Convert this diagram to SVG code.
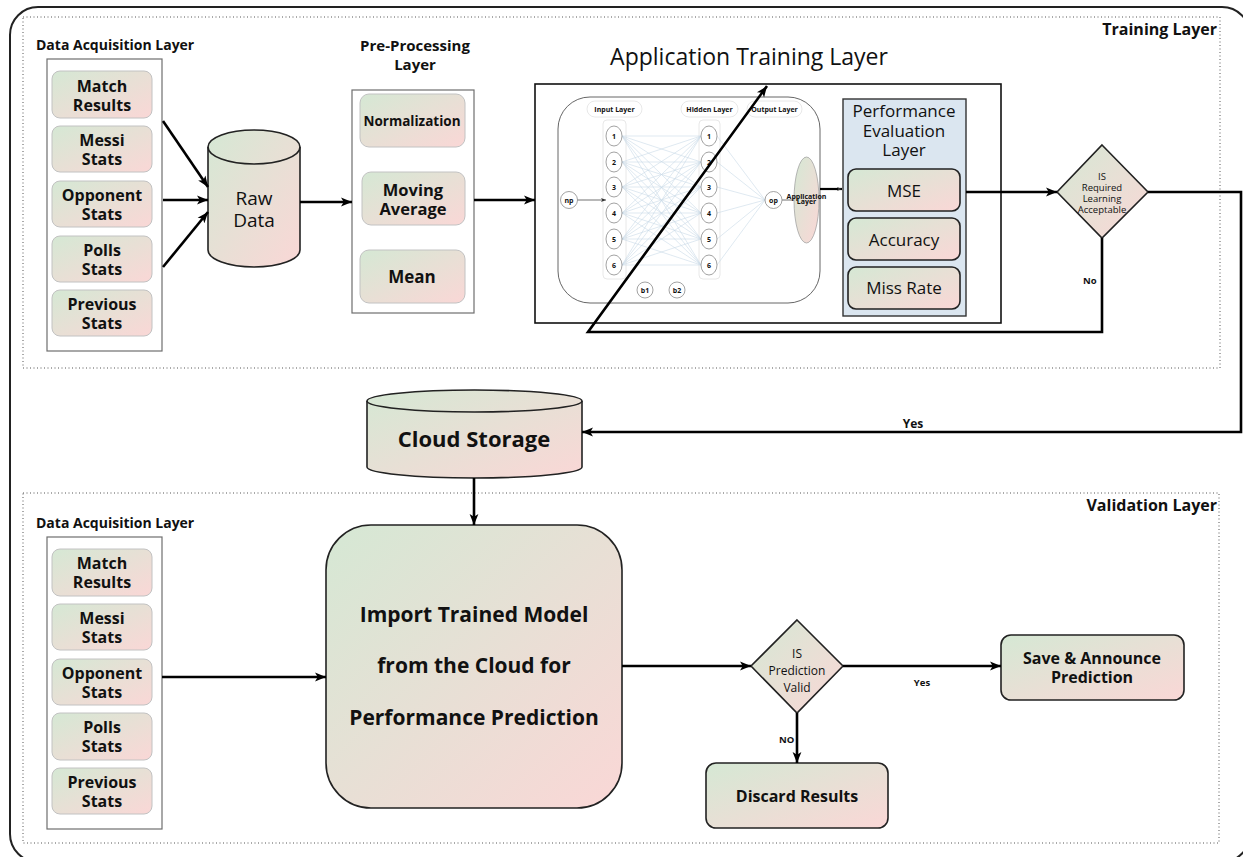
<svg xmlns="http://www.w3.org/2000/svg" width="1243" height="857" viewBox="0 0 1243 857">
  <defs>
    <linearGradient id="gp" x1="0" y1="0" x2="1" y2="1">
      <stop offset="0" stop-color="#d5e8d4"/>
      <stop offset="1" stop-color="#fad7d6"/>
    </linearGradient>
    <marker id="ah" viewBox="0 0 10 10" refX="10" refY="5" markerWidth="11" markerHeight="11" markerUnits="userSpaceOnUse" orient="auto">
      <path d="M0,1 L10,5 L0,9 L2.5,5 z" fill="#000"/>
    </marker>
    <marker id="ahs" viewBox="0 0 10 10" refX="10" refY="5" markerWidth="5" markerHeight="5" markerUnits="userSpaceOnUse" orient="auto">
      <path d="M0,1 L10,5 L0,9 L2.5,5 z" fill="#333"/>
    </marker>
  </defs>
  <style>
    text { font-family: "Open Sans", "Liberation Sans", sans-serif; fill: #111; }
    .b { font-weight: 700; }
    .c { text-anchor: middle; }
    .item { fill: url(#gp); stroke: #c2c2c2; stroke-width: 1; }
    .box { fill: url(#gp); stroke: #222; stroke-width: 1.6; }
    .frame { fill: #fff; stroke: #6e6e6e; stroke-width: 1.2; }
    .dots { fill: none; stroke: #555; stroke-width: 1; stroke-dasharray: 1 2.5; }
    .wire { fill: none; stroke: #000; stroke-width: 2.6; }
    .nn { fill: #fff; stroke: #8a8a8a; stroke-width: 0.8; }
    .col { fill: none; stroke: #e2e2e2; stroke-width: 0.8; }
    .edge { stroke: #c9dae8; stroke-width: 0.6; }
    .it { font-size: 16px; font-weight: 700; text-anchor: middle; }
    .num { font-size: 7px; font-weight: 700; text-anchor: middle; }
  </style>

  <rect x="0" y="0" width="1243" height="857" fill="#fff"/>

  <!-- outer frame -->
  <rect x="10" y="7" width="1240" height="855" rx="28" fill="none" stroke="#222" stroke-width="2"/>

  <!-- layer regions -->
  <g id="training-layer">
    <rect class="dots" x="23" y="17" width="1197" height="351"/>
    <text class="b" x="1217" y="35" font-size="16" text-anchor="end">Training Layer</text>
  </g>
  <g id="validation-layer">
    <rect class="dots" x="23" y="493" width="1196" height="350"/>
    <text class="b" x="1217" y="511" font-size="16" text-anchor="end">Validation Layer</text>
  </g>

  <!-- training: data acquisition -->
  <g id="data-acquisition-train">
    <text class="b" x="36" y="50" font-size="14">Data Acquisition Layer</text>
    <rect class="frame" x="47" y="59" width="115" height="292"/>
    <rect class="item" x="52" y="71" width="100" height="47" rx="8"/>
    <text class="it" x="102" y="92">Match<tspan x="102" dy="18.5">Results</tspan></text>
    <rect class="item" x="52" y="126" width="100" height="46" rx="8"/>
    <text class="it" x="102" y="146">Messi<tspan x="102" dy="18.5">Stats</tspan></text>
    <rect class="item" x="52" y="181" width="100" height="46" rx="8"/>
    <text class="it" x="102" y="201">Opponent<tspan x="102" dy="18.5">Stats</tspan></text>
    <rect class="item" x="52" y="236" width="100" height="46" rx="8"/>
    <text class="it" x="102" y="256">Polls<tspan x="102" dy="18.5">Stats</tspan></text>
    <rect class="item" x="52" y="290" width="100" height="46" rx="8"/>
    <text class="it" x="102" y="310">Previous<tspan x="102" dy="18.5">Stats</tspan></text>
  </g>

  <g id="raw-data">
    <path class="box" d="M208,147 A46,17 0 0,1 300,147 L300,250 A46,17 0 0,1 208,250 Z"/>
    <path fill="none" stroke="#222" stroke-width="1.6" d="M208,147 A46,17 0 0,0 300,147"/>
    <text class="c" x="254" y="205" font-size="19">Raw<tspan x="254" dy="22">Data</tspan></text>
  </g>

  <g id="pre-processing">
    <text class="b c" x="415" y="51" font-size="15">Pre-Processing<tspan x="415" dy="19">Layer</tspan></text>
    <rect class="frame" x="352" y="90" width="122" height="223" stroke="#222"/>
    <rect class="item" x="360" y="94" width="105" height="53" rx="9"/>
    <text class="b c" x="412" y="126" font-size="13.5">Normalization</text>
    <rect class="item" x="362" y="172" width="103" height="53" rx="9"/>
    <text class="b c" x="413" y="196" font-size="16.5">Moving<tspan x="413" dy="19">Average</tspan></text>
    <rect class="item" x="360" y="250" width="105" height="53" rx="9"/>
    <text class="b c" x="412" y="283" font-size="17">Mean</text>
  </g>

  <!-- application training layer -->
  <g id="application-training">
    <text class="c" x="749" y="65" font-size="23">Application Training Layer</text>
    <rect x="535" y="84" width="466" height="239" fill="#fff" stroke="#111" stroke-width="1.6"/>
  </g>

  <g id="neural-network">
    <rect x="558" y="97" width="262" height="206" rx="32" fill="#fff" stroke="#555" stroke-width="0.9"/>
    <rect class="col" x="587" y="101" width="55" height="16" rx="8"/>
    <text class="num" x="614.5" y="111.5" font-size="6.5">Input Layer</text>
    <rect class="col" x="681" y="101" width="57" height="16" rx="8"/>
    <text class="num" x="709.5" y="111.5" font-size="6.5">Hidden Layer</text>
    <rect class="col" x="747" y="101" width="55" height="16" rx="8"/>
    <text class="num" x="774.5" y="111.5" font-size="6.5">Output Layer</text>
    <rect class="col" x="603" y="120" width="23" height="159" rx="4"/>
    <rect class="col" x="699" y="120" width="21" height="159" rx="4"/>
    <!-- weights input -> hidden -->
    <g class="edge">
      <line x1="622" y1="136" x2="701" y2="136"/><line x1="622" y1="136" x2="701" y2="162"/><line x1="622" y1="136" x2="701" y2="187"/><line x1="622" y1="136" x2="701" y2="213"/><line x1="622" y1="136" x2="701" y2="239"/><line x1="622" y1="136" x2="701" y2="265"/>
      <line x1="622" y1="162" x2="701" y2="136"/><line x1="622" y1="162" x2="701" y2="162"/><line x1="622" y1="162" x2="701" y2="187"/><line x1="622" y1="162" x2="701" y2="213"/><line x1="622" y1="162" x2="701" y2="239"/><line x1="622" y1="162" x2="701" y2="265"/>
      <line x1="622" y1="187" x2="701" y2="136"/><line x1="622" y1="187" x2="701" y2="162"/><line x1="622" y1="187" x2="701" y2="187"/><line x1="622" y1="187" x2="701" y2="213"/><line x1="622" y1="187" x2="701" y2="239"/><line x1="622" y1="187" x2="701" y2="265"/>
      <line x1="622" y1="213" x2="701" y2="136"/><line x1="622" y1="213" x2="701" y2="162"/><line x1="622" y1="213" x2="701" y2="187"/><line x1="622" y1="213" x2="701" y2="213"/><line x1="622" y1="213" x2="701" y2="239"/><line x1="622" y1="213" x2="701" y2="265"/>
      <line x1="622" y1="239" x2="701" y2="136"/><line x1="622" y1="239" x2="701" y2="162"/><line x1="622" y1="239" x2="701" y2="187"/><line x1="622" y1="239" x2="701" y2="213"/><line x1="622" y1="239" x2="701" y2="239"/><line x1="622" y1="239" x2="701" y2="265"/>
      <line x1="622" y1="265" x2="701" y2="136"/><line x1="622" y1="265" x2="701" y2="162"/><line x1="622" y1="265" x2="701" y2="187"/><line x1="622" y1="265" x2="701" y2="213"/><line x1="622" y1="265" x2="701" y2="239"/><line x1="622" y1="265" x2="701" y2="265"/>
      <!-- hidden -> output -->
      <line x1="717" y1="136" x2="765" y2="200"/><line x1="717" y1="162" x2="765" y2="200"/><line x1="717" y1="187" x2="765" y2="200"/><line x1="717" y1="213" x2="765" y2="200"/><line x1="717" y1="239" x2="765" y2="200"/><line x1="717" y1="265" x2="765" y2="200"/>
    </g>
    <line x1="577" y1="200" x2="606" y2="200" stroke="#333" stroke-width="0.7" marker-end="url(#ahs)"/>
    <line x1="782" y1="200" x2="794" y2="200" stroke="#333" stroke-width="0.7"/>
    <circle class="nn" cx="569" cy="200" r="8.5"/><text class="num" x="569" y="202.5" font-size="6">np</text>
    <ellipse class="nn" cx="614" cy="136" rx="8" ry="10"/><text class="num" x="614" y="138.5">1</text>
    <ellipse class="nn" cx="614" cy="162" rx="8" ry="10"/><text class="num" x="614" y="164.5">2</text>
    <ellipse class="nn" cx="614" cy="187" rx="8" ry="10"/><text class="num" x="614" y="189.5">3</text>
    <ellipse class="nn" cx="614" cy="213" rx="8" ry="10"/><text class="num" x="614" y="215.5">4</text>
    <ellipse class="nn" cx="614" cy="239" rx="8" ry="10"/><text class="num" x="614" y="241.5">5</text>
    <ellipse class="nn" cx="614" cy="265" rx="8" ry="10"/><text class="num" x="614" y="267.5">6</text>
    <ellipse class="nn" cx="709" cy="136" rx="8" ry="10"/><text class="num" x="709" y="138.5">1</text>
    <ellipse class="nn" cx="709" cy="162" rx="8" ry="10"/><text class="num" x="709" y="164.5">2</text>
    <ellipse class="nn" cx="709" cy="187" rx="8" ry="10"/><text class="num" x="709" y="189.5">3</text>
    <ellipse class="nn" cx="709" cy="213" rx="8" ry="10"/><text class="num" x="709" y="215.5">4</text>
    <ellipse class="nn" cx="709" cy="239" rx="8" ry="10"/><text class="num" x="709" y="241.5">5</text>
    <ellipse class="nn" cx="709" cy="265" rx="8" ry="10"/><text class="num" x="709" y="267.5">6</text>
    <circle class="nn" cx="773.5" cy="200" r="8.5"/><text class="num" x="773.5" y="202.5" font-size="6">op</text>
    <circle class="nn" cx="645" cy="290" r="8"/><text class="num" x="645" y="292.5">b1</text>
    <circle class="nn" cx="677" cy="290" r="8"/><text class="num" x="677" y="292.5">b2</text>
    <ellipse cx="806.5" cy="200" rx="12.5" ry="43" fill="url(#gp)" stroke="#999" stroke-width="0.7"/>
    <text class="num" x="806.5" y="199" font-size="3.6">Application<tspan x="806.5" dy="4.5">Layer</tspan></text>
  </g>

  <g id="performance-evaluation">
    <rect x="843" y="99" width="123" height="217" fill="#dbe6f0" stroke="#333" stroke-width="1.4"/>
    <text class="c" x="904" y="117" font-size="17">Performance<tspan x="904" dy="20">Evaluation</tspan><tspan x="904" dy="19">Layer</tspan></text>
    <rect class="box" x="848" y="169" width="112" height="42" rx="8"/>
    <text class="c" x="904" y="197" font-size="17">MSE</text>
    <rect class="box" x="848" y="218" width="112" height="42" rx="8"/>
    <text class="c" x="904" y="246" font-size="17">Accuracy</text>
    <rect class="box" x="848" y="267" width="112" height="42" rx="8"/>
    <text class="c" x="904" y="294" font-size="17">Miss Rate</text>
  </g>

  <g id="decision-learning">
    <polygon class="box" points="1102,145 1148,192 1102,238 1057,192"/>
    <text class="c" x="1102" y="180" font-size="9.5">IS<tspan x="1102" dy="11">Required</tspan><tspan x="1102" dy="11">Learning</tspan><tspan x="1102" dy="11">Acceptable</tspan></text>
  </g>

  <g id="cloud-storage">
    <path class="box" d="M367,401 A107.5,11 0 0,1 582,401 L582,467 A107.5,11 0 0,1 367,467 Z"/>
    <path fill="none" stroke="#222" stroke-width="1.6" d="M367,401 A107.5,11 0 0,0 582,401"/>
    <text class="b c" x="474" y="447" font-size="22">Cloud Storage</text>
  </g>

  <!-- validation: data acquisition -->
  <g id="data-acquisition-valid">
    <text class="b" x="36" y="528" font-size="14">Data Acquisition Layer</text>
    <rect class="frame" x="47" y="537" width="115" height="292"/>
    <rect class="item" x="52" y="549" width="100" height="47" rx="8"/>
    <text class="it" x="102" y="569">Match<tspan x="102" dy="18.5">Results</tspan></text>
    <rect class="item" x="52" y="604" width="100" height="46" rx="8"/>
    <text class="it" x="102" y="624">Messi<tspan x="102" dy="18.5">Stats</tspan></text>
    <rect class="item" x="52" y="659" width="100" height="46" rx="8"/>
    <text class="it" x="102" y="679">Opponent<tspan x="102" dy="18.5">Stats</tspan></text>
    <rect class="item" x="52" y="713" width="100" height="47" rx="8"/>
    <text class="it" x="102" y="733">Polls<tspan x="102" dy="18.5">Stats</tspan></text>
    <rect class="item" x="52" y="768" width="100" height="46" rx="8"/>
    <text class="it" x="102" y="788">Previous<tspan x="102" dy="18.5">Stats</tspan></text>
  </g>

  <g id="import-model">
    <rect class="box" x="326" y="525" width="296" height="283" rx="45"/>
    <text class="b c" x="474" y="622" font-size="21">Import Trained Model<tspan x="474" dy="51">from the Cloud for</tspan><tspan x="474" dy="52">Performance Prediction</tspan></text>
  </g>

  <g id="decision-prediction">
    <polygon class="box" points="797,620 843,666 797,713 751,666"/>
    <text class="c" x="797" y="658" font-size="12">IS<tspan x="797" dy="17">Prediction</tspan><tspan x="797" dy="17">Valid</tspan></text>
  </g>

  <g id="save-announce">
    <rect class="box" x="1001" y="635" width="183" height="65" rx="10"/>
    <text class="b c" x="1092" y="664" font-size="16">Save &amp; Announce<tspan x="1092" dy="19">Prediction</tspan></text>
  </g>

  <g id="discard-results">
    <rect class="box" x="706" y="763" width="182" height="65" rx="10"/>
    <text class="b c" x="797" y="802" font-size="16">Discard Results</text>
  </g>

  <!-- connectors -->
  <g id="connectors">
    <line class="wire" x1="163" y1="121" x2="208" y2="187" marker-end="url(#ah)"/>
    <line class="wire" x1="163" y1="200" x2="208" y2="200" marker-end="url(#ah)"/>
    <line class="wire" x1="163" y1="267" x2="208" y2="212" marker-end="url(#ah)"/>
    <line class="wire" x1="300" y1="202" x2="352" y2="202" marker-end="url(#ah)"/>
    <line class="wire" x1="474" y1="200" x2="535" y2="200" marker-end="url(#ah)"/>
    <line x1="820" y1="189" x2="842" y2="189" stroke="#000" stroke-width="2.2" marker-end="url(#ahs)"/>
    <line class="wire" x1="966" y1="192" x2="1057" y2="192" marker-end="url(#ah)"/>
    <polyline class="wire" points="1102,238 1102,332 588,332 767,86" marker-end="url(#ah)"/>
    <text class="b" x="1083" y="284" font-size="9.5">No</text>
    <polyline class="wire" points="1148,192 1241,192 1241,432 582,432" marker-end="url(#ah)"/>
    <text class="b" x="913" y="428" font-size="12" text-anchor="middle">Yes</text>
    <line class="wire" x1="474" y1="478" x2="474" y2="525" marker-end="url(#ah)"/>
    <line class="wire" x1="162" y1="677" x2="326" y2="677" marker-end="url(#ah)"/>
    <line class="wire" x1="622" y1="666" x2="751" y2="666" marker-end="url(#ah)"/>
    <line class="wire" x1="843" y1="666" x2="1001" y2="666" marker-end="url(#ah)"/>
    <text class="b c" x="922" y="686" font-size="9.5">Yes</text>
    <line class="wire" x1="797" y1="713" x2="797" y2="763" marker-end="url(#ah)"/>
    <text class="b" x="779" y="743" font-size="9.5">NO</text>
  </g>
</svg>
